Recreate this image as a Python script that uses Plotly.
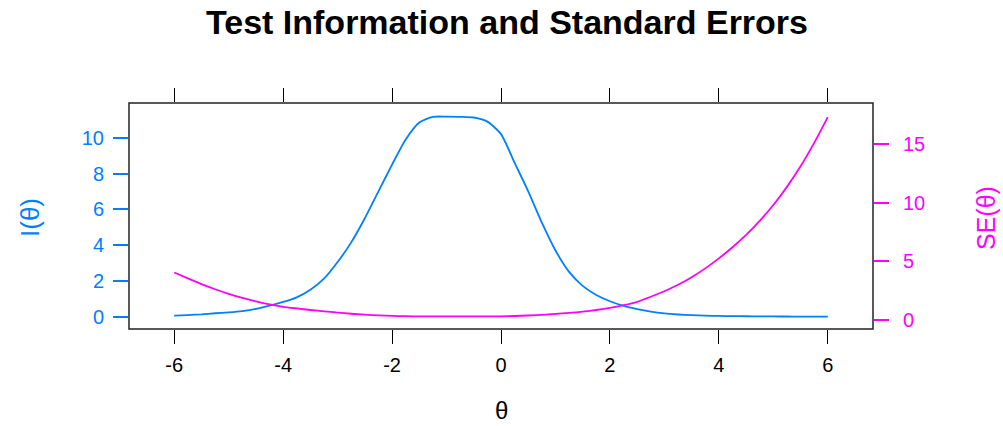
import plotly.graph_objects as go

theta = [-6.0, -5.75, -5.5, -5.25, -5.0, -4.75, -4.5, -4.25, -4.0, -3.75, -3.5, -3.25,
         -3.0, -2.75, -2.5, -2.25, -2.0, -1.75, -1.5, -1.25, -1.0, -0.75, -0.5, -0.25,
         0.0, 0.25, 0.5, 0.75, 1.0, 1.25, 1.5, 1.75, 2.0, 2.25, 2.5, 2.75,
         3.0, 3.25, 3.5, 3.75, 4.0, 4.25, 4.5, 4.75, 5.0, 5.25, 5.5, 5.75, 6.0]

info = [0.06, 0.09, 0.13, 0.19, 0.24, 0.31, 0.43, 0.61, 0.82, 1.08, 1.5, 2.12,
        3.05, 4.15, 5.5, 7.0, 8.5, 9.9, 10.85, 11.17, 11.18, 11.17, 11.13, 10.9,
        10.2, 8.6, 7.0, 5.25, 3.7, 2.5, 1.72, 1.21, 0.86, 0.6, 0.42, 0.28,
        0.18, 0.12, 0.08, 0.055, 0.04, 0.03, 0.022, 0.016, 0.011, 0.008, 0.006, 0.0045, 0.0033]

se = [4.05, 3.55, 3.05, 2.62, 2.22, 1.88, 1.58, 1.32, 1.12, 0.98, 0.85, 0.74,
      0.63, 0.53, 0.45, 0.39, 0.345, 0.32, 0.305, 0.30, 0.30, 0.30, 0.30, 0.305,
      0.31, 0.34, 0.38, 0.44, 0.52, 0.60, 0.71, 0.85, 1.03, 1.26, 1.55, 1.98,
      2.45, 3.0, 3.65, 4.4, 5.25, 6.2, 7.25, 8.45, 9.8, 11.35, 13.1, 15.1, 17.3]

x_ticks = [-6, -4, -2, 0, 2, 4, 6]
x_tick_text = ["-6", "-4", "-2", "0", "2", "4", "6"]
info_ticks = [0, 2, 4, 6, 8, 10]
se_ticks = [0, 5, 10, 15]

BLUE = "#0080ff"
MAGENTA = "#ff00ff"
FONT = "Liberation Sans, Arial, sans-serif"

fig = go.Figure()
fig.add_trace(go.Scatter(x=theta, y=info, mode="lines", line=dict(color=BLUE, width=1.8, shape="spline", smoothing=0.6),
                         xaxis="x", yaxis="y", showlegend=False))
fig.add_trace(go.Scatter(x=theta, y=se, mode="lines", line=dict(color=MAGENTA, width=1.8, shape="spline", smoothing=0.6),
                         xaxis="x2", yaxis="y2", showlegend=False))

xr = [-6.83, 6.83]
fig.update_layout(
    width=1003, height=426,
    margin=dict(l=129, r=130, t=103, b=97),
    paper_bgcolor="white", plot_bgcolor="white",
    font=dict(family=FONT, size=20, color="black"),
    xaxis=dict(range=xr, tickvals=x_ticks, ticktext=x_tick_text, ticks="outside", ticklen=14, tickwidth=1,
               tickcolor="black", showline=False, showgrid=False, zeroline=False,
               tickfont=dict(size=20, color="black"), ticklabelstandoff=4),
    xaxis2=dict(range=xr, tickvals=x_ticks, ticks="outside", ticklen=14, tickwidth=1, tickcolor="black",
                showline=False, showgrid=False, zeroline=False, showticklabels=False,
                overlaying="x", side="top", anchor="y2"),
    yaxis=dict(range=[-0.69, 11.94], tickvals=info_ticks, ticks="outside", ticklen=15, tickwidth=1.5,
               tickcolor=BLUE, tickfont=dict(size=20, color=BLUE), showline=False, showgrid=False,
               zeroline=False, ticklabelstandoff=5),
    yaxis2=dict(range=[-0.77, 18.5], tickvals=se_ticks, ticks="outside", ticklen=15, tickwidth=1.5,
                tickcolor=MAGENTA, tickfont=dict(size=20, color=MAGENTA), showline=False, showgrid=False,
                zeroline=False, overlaying="y", side="right", anchor="x2", ticklabelstandoff=10),
    shapes=[dict(type="rect", xref="paper", yref="paper", x0=0, x1=1, y0=0, y1=1,
                 line=dict(color="#222222", width=1.5))],
    annotations=[
        dict(text="<b>Test Information and Standard Errors</b>", xref="paper", yref="paper",
             x=0.508, y=1, yshift=81, xanchor="center", yanchor="middle", showarrow=False,
             font=dict(size=34, color="black", family=FONT)),
        dict(text="θ", xref="paper", yref="paper", x=0.5, y=0, yshift=-81, xanchor="center",
             yanchor="middle", showarrow=False, font=dict(size=24, color="black", family=FONT)),
        dict(text="I(θ)", xref="paper", yref="paper", x=0, xshift=-99, y=0.5, yshift=-2, xanchor="center",
             yanchor="middle", textangle=-90, showarrow=False, font=dict(size=26, color=BLUE, family=FONT)),
        dict(text="SE(θ)", xref="paper", yref="paper", x=1, xshift=113, y=0.5, yshift=-2, xanchor="center",
             yanchor="middle", textangle=-90, showarrow=False, font=dict(size=25, color=MAGENTA, family=FONT)),
    ],
)

fig.write_html("out.html", config={"displayModeBar": False},
               post_script="document.body.style.margin='0px';document.body.style.overflow='hidden';")
